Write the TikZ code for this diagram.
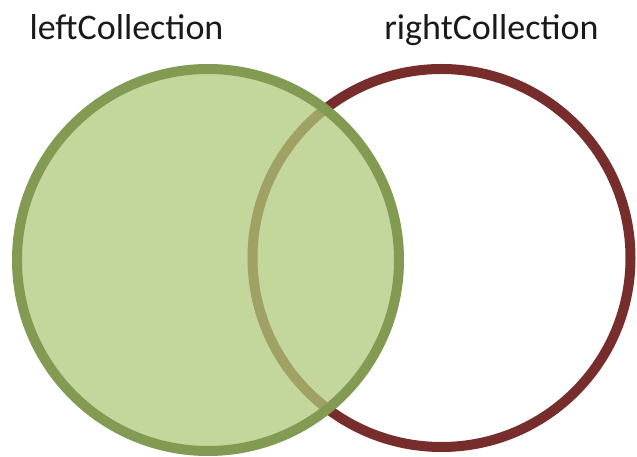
\documentclass[tikz,border=0pt]{standalone}
\usepackage{fontspec}
\setmainfont{Carlito}
\definecolor{leftline}{HTML}{839A52}
\definecolor{leftfill}{HTML}{AFC879}
\definecolor{rightline}{HTML}{772D2C}
\tikzset{
  setlabel/.style={font=\fontsize{36}{43}\selectfont, text=black!90, anchor=base, inner sep=0pt},
  setcircle/.style={circle, line width=10pt, inner sep=0pt}
}
\begin{document}
\begin{tikzpicture}[x=1pt,y=1pt]
\useasboundingbox (0,0) rectangle (637,457);
\node[setcircle, draw=rightline, minimum size=378pt] (right) at (441.5,199) {};
\node[setcircle, draw=leftline, fill=leftfill, fill opacity=0.75, draw opacity=1, minimum size=382pt] (left) at (208,197) {};
\node[setlabel] (lefttext) at (126.5,417) {leftCollection};
\node[setlabel] (righttext) at (491.5,417) {rightCollection};
\end{tikzpicture}
\end{document}
